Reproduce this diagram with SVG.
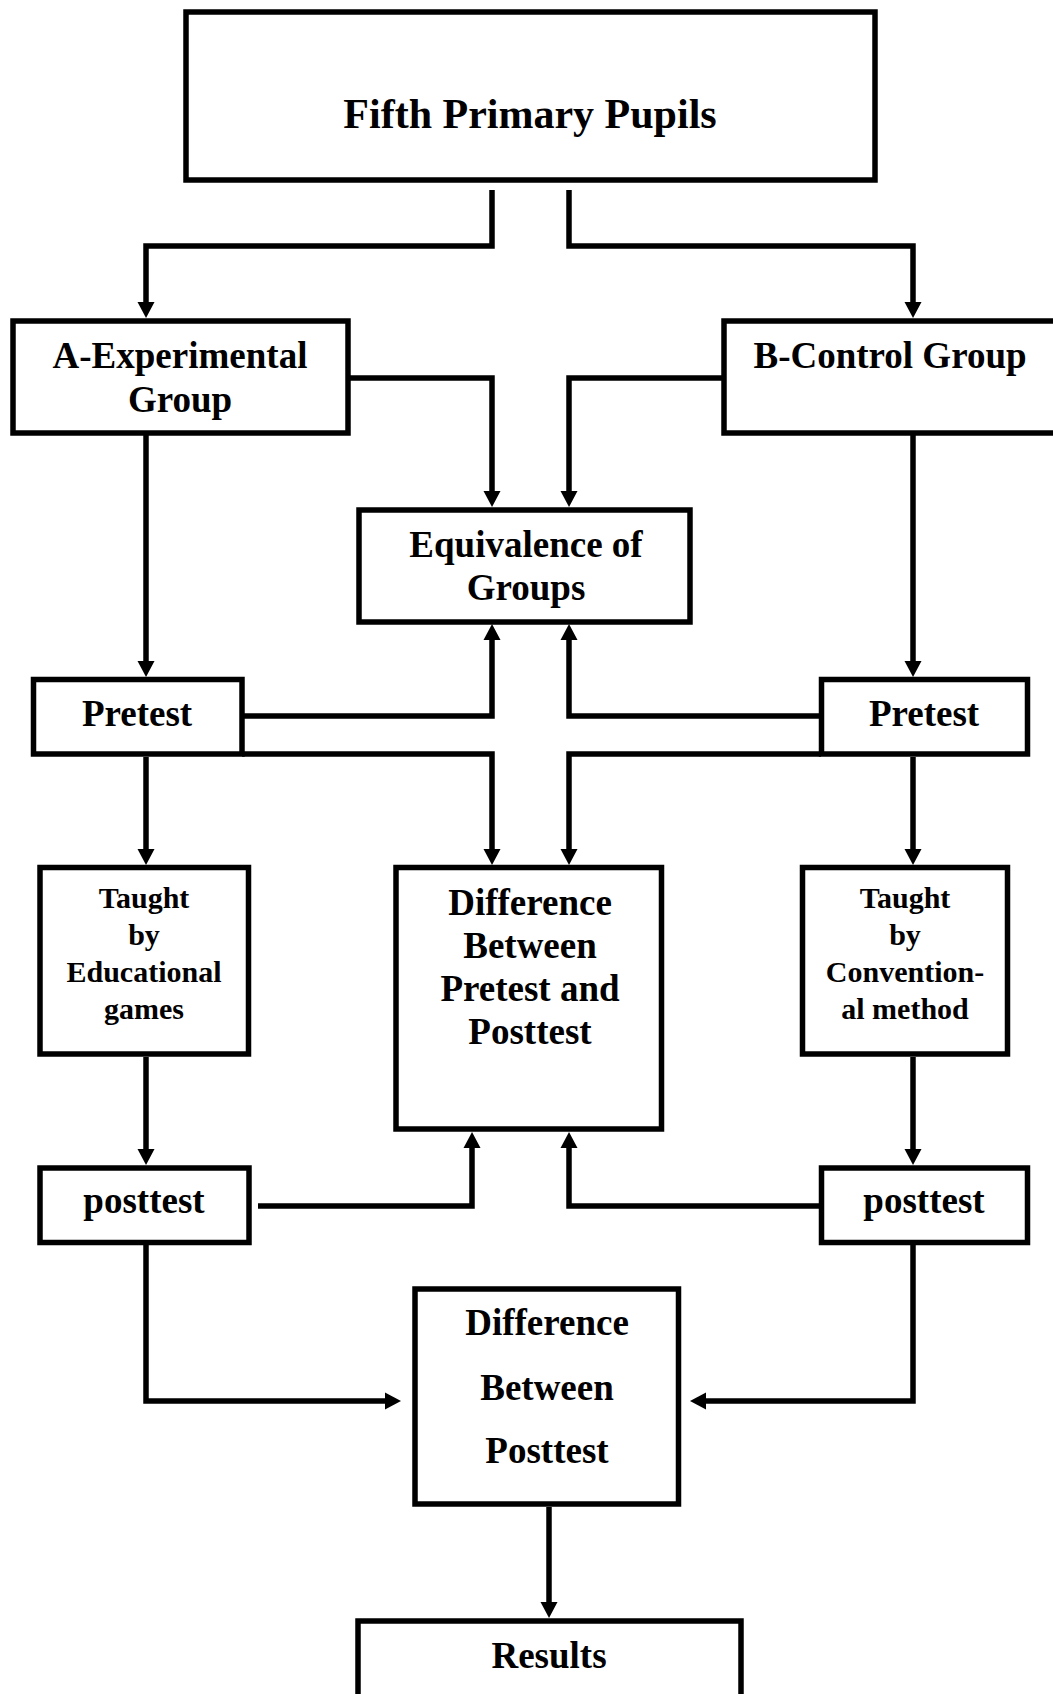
<svg xmlns="http://www.w3.org/2000/svg" width="1053" height="1694" viewBox="0 0 1053 1694">
<style>
.box{fill:#fff;stroke:#000;stroke-width:5.5}
.t{font-family:"Liberation Serif","Times New Roman",serif;font-weight:bold;font-size:37px;fill:#000;text-anchor:middle}
.s{font-size:30px}
.big{font-size:42px}
.c{fill:none;stroke:#000;stroke-width:5.5;stroke-linejoin:miter;marker-end:url(#ah)}
</style>
<defs>
<marker id="ah" markerUnits="userSpaceOnUse" viewBox="0 -9 16 18" markerWidth="16" markerHeight="18" refX="0" refY="0" orient="auto">
<path d="M0,-8.5 L16,0 L0,8.5 Z" fill="#000"/>
</marker>
</defs>
<rect width="1053" height="1694" fill="#fff"/>
<g id="connectors">
<path class="c" d="M492,190 V246 H146 V302"/>
<path class="c" d="M569,190 V246 H913 V302"/>
<path class="c" d="M338,378 H492 V491"/>
<path class="c" d="M724,378 H569 V491"/>
<path class="c" d="M146,435 V661"/>
<path class="c" d="M913,435 V661"/>
<path class="c" d="M242,716 H492 V640"/>
<path class="c" d="M821,716 H569 V640"/>
<path class="c" d="M242,754 H492 V849"/>
<path class="c" d="M821,754 H569 V849"/>
<path class="c" d="M146,757 V849"/>
<path class="c" d="M913,757 V849"/>
<path class="c" d="M146,1057 V1149"/>
<path class="c" d="M913,1057 V1149"/>
<path class="c" d="M258,1206 H472 V1148"/>
<path class="c" d="M821,1206 H569 V1148"/>
<path class="c" d="M146,1245 V1401 H385"/>
<path class="c" d="M913,1245 V1401 H706"/>
<path class="c" d="M549,1507 V1602"/>
</g>
<g id="fifth">
<rect class="box" x="186" y="12" width="689" height="168"/>
<text class="t big" x="530" y="128">Fifth Primary Pupils</text>
</g>
<g id="groupA">
<rect class="box" x="13" y="321" width="335" height="112"/>
<text class="t" x="180" y="368">A-Experimental</text>
<text class="t" x="180" y="412">Group</text>
</g>
<g id="groupB">
<rect class="box" x="724" y="321" width="340" height="112"/>
<text class="t" x="890" y="368">B-Control Group</text>
</g>
<g id="equivalence">
<rect class="box" x="359" y="510" width="331" height="112"/>
<text class="t" x="526" y="557">Equivalence of</text>
<text class="t" x="526" y="600">Groups</text>
</g>
<g id="pretestA">
<rect class="box" x="33.5" y="679.5" width="208.5" height="74.5"/>
<text class="t" x="137" y="726">Pretest</text>
</g>
<g id="pretestB">
<rect class="box" x="821.5" y="679.5" width="206" height="74.5"/>
<text class="t" x="924" y="726">Pretest</text>
</g>
<g id="taughtA">
<rect class="box" x="40" y="867.5" width="208.5" height="186.5"/>
<text class="t s" x="144" y="908">Taught</text>
<text class="t s" x="144" y="945">by</text>
<text class="t s" x="144" y="982">Educational</text>
<text class="t s" x="144" y="1019">games</text>
</g>
<g id="diffPrePost">
<rect class="box" x="396" y="867.5" width="265.5" height="261.5"/>
<text class="t" x="530" y="915">Difference</text>
<text class="t" x="530" y="958">Between</text>
<text class="t" x="530" y="1001">Pretest and</text>
<text class="t" x="530" y="1044">Posttest</text>
</g>
<g id="taughtB">
<rect class="box" x="802.5" y="867.5" width="205" height="186.5"/>
<text class="t s" x="905" y="908">Taught</text>
<text class="t s" x="905" y="945">by</text>
<text class="t s" x="905" y="982">Convention-</text>
<text class="t s" x="905" y="1019">al method</text>
</g>
<g id="posttestA">
<rect class="box" x="40" y="1168" width="209" height="74.5"/>
<text class="t" x="144" y="1213">posttest</text>
</g>
<g id="posttestB">
<rect class="box" x="821.5" y="1168" width="206" height="74.5"/>
<text class="t" x="924" y="1213">posttest</text>
</g>
<g id="diffPost">
<rect class="box" x="415" y="1289" width="263.5" height="215"/>
<text class="t" x="547" y="1335">Difference</text>
<text class="t" x="547" y="1400">Between</text>
<text class="t" x="547" y="1463">Posttest</text>
</g>
<g id="results">
<rect class="box" x="358" y="1621" width="383" height="100"/>
<text class="t" x="549" y="1668">Results</text>
</g>
</svg>
